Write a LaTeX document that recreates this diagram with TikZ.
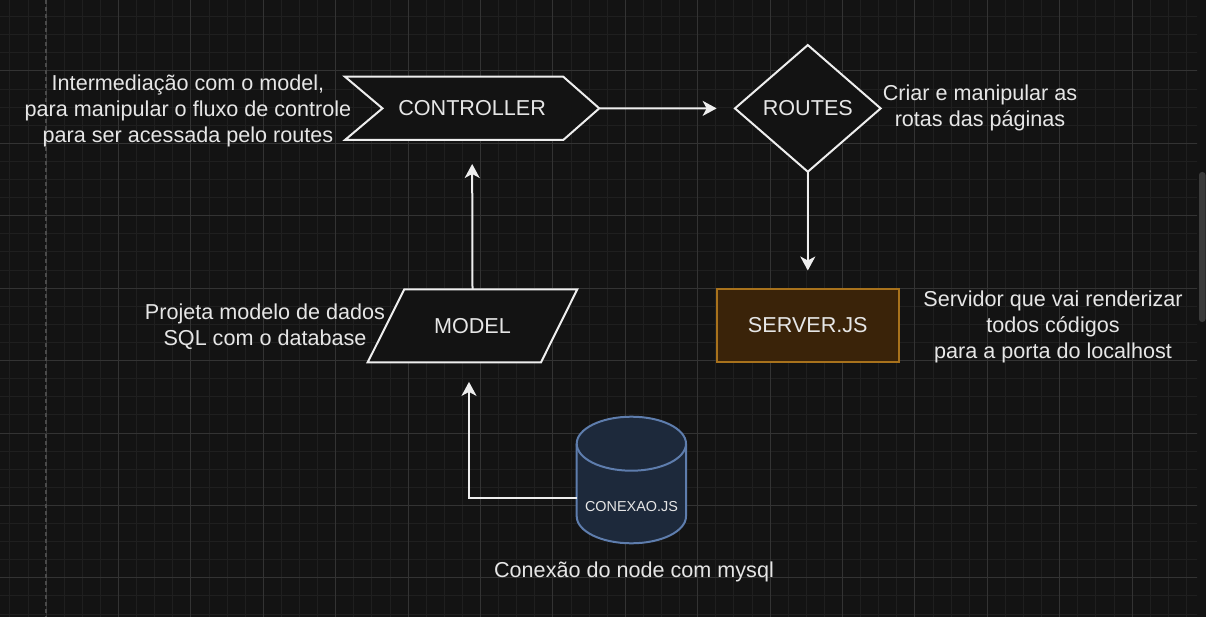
\documentclass[tikz,border=0pt]{standalone}
\usepackage{fontspec}
\setmainfont{Liberation Sans}
\usetikzlibrary{arrows.meta,shapes.geometric,calc}
\definecolor{bg}{HTML}{131313}
\definecolor{gridminor}{HTML}{1F1F1F}
\definecolor{gridmajor}{HTML}{333333}
\definecolor{pageline}{HTML}{4A4A4A}
\definecolor{ink}{HTML}{EEEEEE}
\definecolor{txt}{HTML}{E6E6E6}
\definecolor{srvfill}{HTML}{3A2309}
\definecolor{srvline}{HTML}{A8721C}
\definecolor{dbfill}{HTML}{1D293B}
\definecolor{dbline}{HTML}{5E7DAD}
\definecolor{scroll}{HTML}{3A3A3A}
\begin{document}
\begin{tikzpicture}[x=1pt,y=-1pt,
  big/.style={font=\fontsize{21.6pt}{26pt}\selectfont, text=txt, inner sep=0pt},
  small/.style={font=\fontsize{14.4pt}{17pt}\selectfont, text=txt, inner sep=0pt},
  note/.style={big, align=center},
  shapebox/.style={inner sep=0pt, outer sep=0pt},
  outline/.style={draw=ink, fill=bg, line width=2pt, line join=miter},
  conn/.style={draw=ink, line width=2pt, -{Stealth[length=14pt,width=15pt,inset=4pt]}}
]
\fill[bg] (0,0) rectangle (1206,617);
\useasboundingbox (0,0) rectangle (1206,617);
% grid
\begin{scope}
\clip (0,0) rectangle (1197,617);
\foreach \i in {-3,...,64} \draw[gridminor, line width=1pt] ({46.1+18.1*\i},0) -- ({46.1+18.1*\i},617);
\foreach \j in {-4,...,31} \draw[gridminor, line width=1pt] (0,{71+18.1*\j}) -- (1206,{71+18.1*\j});
\foreach \i in {0,...,16} \draw[gridmajor, line width=1pt] ({46.1+72.4*\i},0) -- ({46.1+72.4*\i},617);
\foreach \j in {-1,...,8} \draw[gridmajor, line width=1pt] (0,{71+72.4*\j}) -- (1206,{71+72.4*\j});
\draw[pageline, line width=1.5pt, dash pattern=on 4pt off 3pt] (46.1,0) -- (46.1,617);
\end{scope}
% scrollbar
\fill[scroll, rounded corners=3pt] (1199,172) rectangle (1205.5,322);

% CONTROLLER (step shape)
\node[shapebox, minimum width=254.3pt, minimum height=63.3pt] (ctrl) at (472.1,108.35) {};
\path[outline] (ctrl.north west) -- ($(ctrl.north east)+(-36,0)$) -- (ctrl.east)
  -- ($(ctrl.south east)+(-36,0)$) -- (ctrl.south west) -- ($(ctrl.west)+(37.5,0)$) -- cycle;
\node[big] at (ctrl.center) {CONTROLLER};

% ROUTES (diamond)
\node[diamond, outline, shapebox, minimum width=145.7pt, minimum height=126.7pt, aspect=1.15] (routes) at (807.8,108.4) {};
\node[big] at (routes.center) {ROUTES};

% MODEL (parallelogram)
\node[shapebox, minimum width=209.6pt, minimum height=73pt] (model) at (472.5,325.8) {};
\path[outline] ($(model.north west)+(36.6,0)$) -- (model.north east)
  -- ($(model.south east)+(-36.3,0)$) -- (model.south west) -- cycle;
\node[big] at (model.center) {MODEL};

% SERVER.JS
\node[shapebox, draw=srvline, fill=srvfill, line width=2pt, minimum width=182.3pt, minimum height=73pt] (server) at (807.8,325.5) {};
\node[big] at (server.center) {SERVER.JS};

% CONEXAO.JS (cylinder)
\node[shapebox, minimum width=109.3pt, minimum height=126.6pt] (db) at (631.35,480) {};
\path[draw=dbline, fill=dbfill, line width=2pt]
  ($(db.north west)+(0,27)$) -- ($(db.south west)+(0,-27)$)
  arc[start angle=180, end angle=360, x radius=54.65pt, y radius=27pt]
  -- ($(db.north east)+(0,27)$)
  arc[start angle=0, end angle=180, x radius=54.65pt, y radius=27pt] -- cycle;
\draw[dbline, line width=2pt] ($(db.north west)+(0,27)$)
  arc[start angle=180, end angle=360, x radius=54.65pt, y radius=27pt];
\node[small] (dbtext) at (631.5,506.7) {CONEXAO.JS};

% connectors
\draw[conn, shorten >=18.3pt] (ctrl.east) -- (routes.west);
\draw[conn, shorten >=18.5pt] (routes.south) -- (server.north);
\draw[conn, shorten >=24pt] (model.north) -- (ctrl.south);
\draw[conn, shorten >=19.6pt] ([yshift=-18.3pt]db.west) -| ([xshift=-3.5pt]model.south);

% annotations
\node[note] (n1) at (188,111) {Intermediação com o model,\\para manipular o fluxo de controle\\para ser acessada pelo routes};
\node[note] (n2) at (980,108) {Criar e manipular as\\rotas das páginas};
\node[note] (n3) at (265,327) {Projeta modelo de dados\\SQL com o database};
\node[note] (n4) at (1053,327) {Servidor que vai renderizar\\todos códigos\\para a porta do localhost};
\node[big] (n5) at (634,572) {Conexão do node com mysql};
\end{tikzpicture}
\end{document}
